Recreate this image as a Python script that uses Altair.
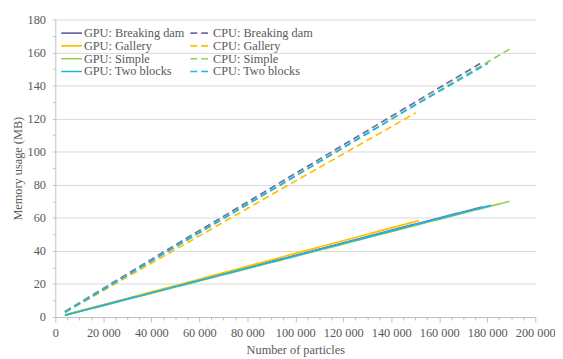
import altair as alt
import pandas as pd

# Series labels (legend order: row-wise GPU / CPU pairs)
series_names = [
    "GPU: Breaking dam", "CPU: Breaking dam",
    "GPU: Gallery", "CPU: Gallery",
    "GPU: Simple", "CPU: Simple",
    "GPU: Two blocks", "CPU: Two blocks",
]
series_colors = ["#6E6AA6", "#6E6AA6", "#FFC000", "#FFC000",
                 "#92D050", "#92D050", "#1FB4E6", "#1FB4E6"]
series_dashes = [[1, 0], [7, 4], [1, 0], [7, 4], [1, 0], [7, 4], [1, 0], [7, 4]]

# Particles (x) and memory usage in MB (y)
gpu_dam_x = [4000, 50000, 100000, 150000, 178000]
gpu_dam_y = [1.2, 18.6, 37.3, 56.2, 66.6]
cpu_dam_x = [4000, 50000, 100000, 150000, 177000]
cpu_dam_y = [3.3, 43.6, 86.8, 130.0, 153.3]

gpu_gallery_x = [4000, 50000, 100000, 151500]
gpu_gallery_y = [1.3, 19.0, 38.5, 58.3]
cpu_gallery_x = [4000, 50000, 100000, 150200]
cpu_gallery_y = [2.8, 40.8, 82.2, 123.5]

gpu_simple_x = [4000, 50000, 100000, 150000, 189300]
gpu_simple_y = [1.0, 18.1, 36.7, 55.4, 70.0]
cpu_simple_x = [4000, 50000, 100000, 150000, 189200]
cpu_simple_y = [3.0, 42.6, 85.4, 128.4, 162.0]

gpu_blocks_x = [4000, 50000, 100000, 150000, 181600]
gpu_blocks_y = [1.1, 18.4, 37.0, 55.9, 67.6]
cpu_blocks_x = [4000, 50000, 100000, 150000, 180300]
cpu_blocks_y = [2.9, 42.4, 85.2, 128.2, 153.4]

series_data = [
    (series_names[0], gpu_dam_x, gpu_dam_y),
    (series_names[1], cpu_dam_x, cpu_dam_y),
    (series_names[2], gpu_gallery_x, gpu_gallery_y),
    (series_names[3], cpu_gallery_x, cpu_gallery_y),
    (series_names[4], gpu_simple_x, gpu_simple_y),
    (series_names[5], cpu_simple_x, cpu_simple_y),
    (series_names[6], gpu_blocks_x, gpu_blocks_y),
    (series_names[7], cpu_blocks_x, cpu_blocks_y),
]

rows = []
for name, xs, ys in series_data:
    for xv, yv in zip(xs, ys):
        rows.append({"series": name, "particles": xv, "memory": yv})
df = pd.DataFrame(rows)

x_tick_values = list(range(0, 200001, 5000))
y_tick_values = list(range(0, 181, 10))

FONT = "Times New Roman, Liberation Serif, serif"
TEXT = "#595959"
AXIS_GREY = "#BFBFBF"


def make_legend():
    return alt.Legend(
        title=None,
        orient="none",
        direction="horizontal",
        legendX=5,
        legendY=7.5,
        columns=2,
        symbolType="stroke",
        symbolSize=441,
        symbolStrokeWidth=1.6,
        clipHeight=12.8,
        labelFont=FONT,
        labelFontSize=12.5,
        labelColor=TEXT,
        labelOffset=1,
        columnPadding=4,
        rowPadding=0,
        padding=0,
    )


chart = alt.Chart(df).mark_line(strokeWidth=1.7).encode(
    x=alt.X(
        "particles:Q",
        scale=alt.Scale(domain=[0, 200000], nice=False, zero=True),
        axis=alt.Axis(
            title="Number of particles",
            values=x_tick_values,
            labelExpr="datum.value % 20000 === 0 ? replace(format(datum.value, ','), ',', ' ') : ''",
            tickSize={"condition": {"test": "datum.value % 20000 === 0", "value": 5}, "value": 3},
            grid=False,
            labelFlush=False,
            labelOverlap=False,
            labelPadding=5,
            titlePadding=4,
        ),
    ),
    y=alt.Y(
        "memory:Q",
        scale=alt.Scale(domain=[0, 180], nice=False),
        axis=alt.Axis(
            title="Memory usage (MB)",
            values=y_tick_values,
            labelExpr="datum.value % 20 === 0 ? datum.label : ''",
            tickSize=3,
            gridOpacity={"condition": {"test": "datum.value % 20 === 0", "value": 1}, "value": 0},
            labelOverlap=False,
            labelPadding=7,
            titlePadding=3,
        ),
    ),
    color=alt.Color(
        "series:N",
        scale=alt.Scale(domain=series_names, range=series_colors),
        legend=make_legend(),
    ),
    strokeDash=alt.StrokeDash(
        "series:N",
        scale=alt.Scale(domain=series_names, range=series_dashes),
        legend=make_legend(),
    ),
).properties(
    width=487,
    height=302,
    autosize=alt.AutoSizeParams(type="none"),
    padding={"left": 48, "top": 9, "right": 20, "bottom": 40},
).configure_view(
    stroke=None
).configure_axis(
    labelFont=FONT,
    titleFont=FONT,
    labelFontSize=12.5,
    titleFontSize=12.5,
    labelColor=TEXT,
    titleColor=TEXT,
    titleFontWeight="normal",
    domainColor=AXIS_GREY,
    tickColor=AXIS_GREY,
    gridColor="#D9D9D9",
    domainWidth=1,
    tickWidth=1,
)

chart.save("out.html", embed_options={"renderer": "svg", "actions": False})
